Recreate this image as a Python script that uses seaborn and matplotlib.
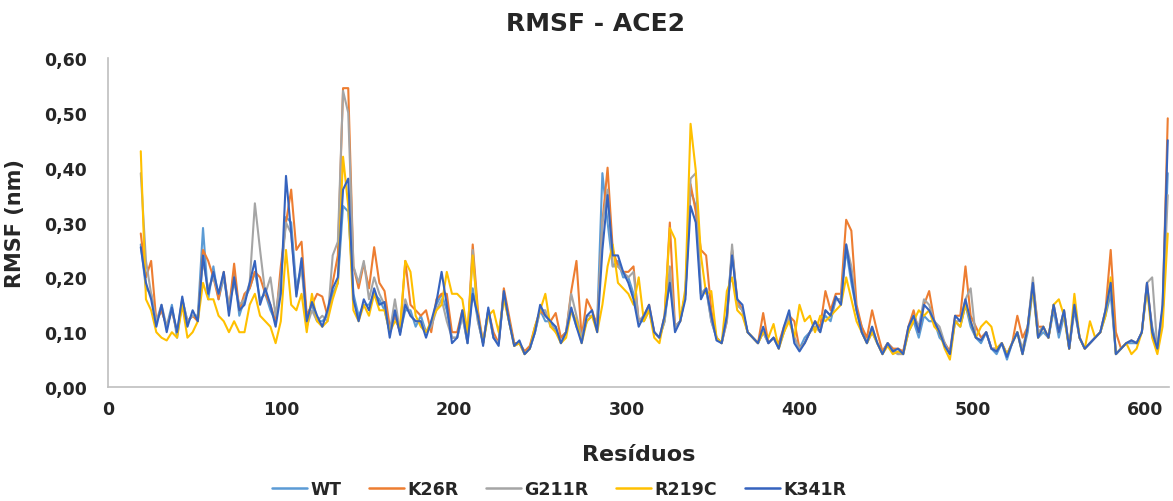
import numpy as np
import pandas as pd
import matplotlib
matplotlib.use("Agg")
import matplotlib.pyplot as plt
import seaborn as sns
from matplotlib.lines import Line2D
from matplotlib.ticker import FuncFormatter

# ---------------- data ----------------
residues = list(range(19, 614, 3))  # residue numbers (every 3rd residue)

variants = ["WT", "K26R", "G211R", "R219C", "K341R"]
colors = ["#5B9BD5", "#ED7D31", "#A5A5A5", "#FFC000", "#3563BE"]

wt = ([.26, .18, .17, .12, .14, .11, .15, .09, .16, .12, .13, .13, .29, .16, .22, .16, .20, .14, .21, .13, .16, .18, .21, .16, .17, .14, .12, .20]
      + [.31, .30, .18, .22, .13, .15, .12, .12, .13, .17, .19, .33, .32, .17, .13, .15, .15, .17, .16, .14, .10, .13, .10, .14, .14, .11, .13, .10, .11, .15, .17, .14, .09]
      + [.09, .13, .08, .18, .12, .08, .14, .09, .08, .17, .12, .08, .08, .065, .07, .10, .14, .12, .12, .10, .09, .10, .14, .11, .09, .12, .13, .12, .39, .30, .22, .23, .20]
      + [.20, .17, .12, .12, .14, .10, .09, .12, .20, .11, .12, .17, .36, .33, .17, .18, .12, .09, .08, .13, .25, .15, .14, .10, .09, .08, .10, .08, .09, .08, .10, .13, .09, .07]
      + [.09, .10, .11, .11, .13, .12, .16, .16, .25, .19, .14, .11, .08, .10, .08, .065, .08, .07, .06, .065, .10, .12, .09, .13, .12, .12, .09, .08, .06, .12, .11, .15, .11]
      + [.09, .08, .10, .07, .06, .08, .05, .08, .10, .06, .10, .18, .09, .10, .09, .14, .09, .13, .07, .14, .09, .07, .08, .09, .10, .13, .17, .06, .07, .08, .08, .08, .10, .18, .11, .07, .14, .39])

k26r = ([.28, .20, .23, .12, .14, .11, .14, .10, .15, .12, .13, .12, .25, .23, .20, .16, .21, .14, .225, .14, .17, .18, .21, .20, .17, .15, .12, .22]
        + [.30, .36, .25, .265, .13, .15, .17, .165, .13, .19, .24, .545, .545, .22, .18, .225, .18, .255, .19, .175, .11, .13, .10, .23, .15, .14, .13, .14, .10, .16, .17, .17, .10]
        + [.10, .14, .09, .26, .14, .08, .14, .10, .08, .18, .13, .08, .08, .065, .075, .11, .14, .13, .12, .135, .09, .10, .175, .23, .09, .16, .14, .11, .30, .40, .25, .22, .21]
        + [.21, .22, .12, .13, .15, .10, .09, .13, .30, .11, .12, .17, .37, .32, .25, .24, .14, .09, .08, .12, .25, .16, .14, .10, .09, .08, .135, .08, .09, .08, .11, .13, .12, .07]
        + [.08, .10, .12, .11, .175, .14, .17, .17, .305, .285, .15, .11, .09, .14, .10, .065, .08, .07, .07, .065, .11, .14, .10, .15, .175, .12, .10, .08, .065, .13, .13, .22, .13]
        + [.11, .09, .10, .07, .07, .08, .06, .08, .13, .09, .11, .19, .11, .11, .09, .15, .10, .14, .07, .15, .09, .07, .08, .09, .10, .14, .25, .10, .07, .08, .085, .08, .10, .19, .10, .07, .14, .49])

g211r = ([.39, .23, .17, .12, .15, .11, .14, .10, .16, .12, .13, .13, .23, .18, .20, .17, .20, .15, .19, .15, .16, .19, .335, .25, .17, .20, .13, .20]
         + [.30, .28, .17, .22, .11, .14, .12, .13, .12, .24, .265, .54, .50, .22, .19, .23, .16, .20, .17, .15, .10, .16, .10, .16, .13, .12, .12, .10, .11, .14, .16, .12, .09]
         + [.09, .13, .08, .25, .12, .08, .14, .09, .08, .17, .12, .075, .08, .06, .07, .10, .14, .14, .11, .11, .08, .10, .17, .13, .09, .13, .13, .11, .30, .36, .22, .22, .21]
         + [.20, .21, .12, .13, .14, .10, .09, .12, .22, .11, .12, .17, .38, .39, .17, .18, .12, .09, .08, .12, .26, .15, .14, .10, .09, .08, .10, .08, .09, .07, .10, .13, .09, .07]
         + [.08, .10, .11, .10, .14, .13, .16, .16, .26, .22, .14, .10, .08, .11, .08, .06, .08, .065, .06, .06, .10, .13, .11, .16, .15, .12, .11, .08, .06, .12, .12, .16, .18]
         + [.09, .085, .10, .07, .07, .08, .06, .08, .10, .07, .11, .20, .10, .11, .09, .15, .10, .14, .07, .15, .09, .07, .08, .09, .10, .14, .18, .06, .07, .08, .085, .08, .10, .19, .20, .07, .13, .35])

r219c = ([.43, .16, .14, .10, .09, .085, .10, .09, .15, .09, .10, .12, .19, .16, .16, .13, .12, .10, .12, .10, .10, .15, .17, .13, .12, .11, .08, .12]
         + [.25, .15, .14, .17, .10, .17, .12, .11, .12, .16, .19, .42, .33, .14, .12, .15, .13, .17, .14, .14, .10, .12, .11, .23, .21, .13, .11, .10, .12, .14, .15, .21, .17]
         + [.17, .16, .10, .24, .13, .08, .13, .14, .10, .16, .12, .075, .08, .06, .07, .11, .14, .17, .11, .10, .08, .09, .14, .12, .08, .12, .13, .10, .15, .22, .26, .19, .18]
         + [.17, .15, .20, .12, .14, .09, .08, .13, .29, .27, .12, .18, .48, .395, .24, .17, .175, .09, .08, .175, .20, .14, .13, .10, .09, .08, .10, .09, .115, .07, .10, .12, .09, .15]
         + [.12, .13, .10, .13, .12, .13, .14, .15, .20, .16, .12, .10, .08, .10, .08, .06, .075, .06, .065, .06, .10, .12, .14, .13, .14, .11, .10, .07, .05, .12, .11, .15, .12]
         + [.09, .11, .12, .11, .07, .08, .06, .08, .10, .06, .11, .18, .09, .11, .09, .15, .16, .13, .07, .17, .09, .07, .12, .09, .10, .13, .20, .06, .07, .08, .06, .07, .10, .18, .09, .06, .11, .28])

k341r = ([.255, .19, .16, .11, .15, .10, .145, .10, .165, .11, .14, .12, .24, .17, .21, .17, .21, .13, .20, .14, .15, .19, .23, .15, .18, .15, .11, .17]
         + [.385, .28, .165, .235, .12, .155, .13, .11, .14, .18, .20, .36, .38, .16, .12, .16, .14, .18, .15, .155, .09, .14, .095, .15, .13, .12, .12, .09, .12, .155, .21, .15, .08]
         + [.09, .14, .08, .17, .13, .075, .145, .09, .075, .175, .12, .075, .085, .06, .07, .10, .15, .13, .12, .11, .08, .10, .145, .11, .08, .13, .14, .10, .25, .35, .24, .24, .21]
         + [.19, .16, .11, .13, .15, .10, .09, .13, .19, .10, .12, .16, .33, .30, .16, .18, .13, .085, .08, .13, .24, .16, .15, .10, .09, .08, .11, .08, .09, .07, .11, .14, .08, .065]
         + [.08, .10, .12, .10, .14, .13, .165, .15, .26, .20, .14, .10, .08, .11, .08, .06, .08, .065, .07, .06, .11, .13, .10, .15, .14, .12, .10, .075, .06, .13, .12, .16, .12]
         + [.09, .085, .10, .07, .065, .08, .055, .08, .10, .06, .11, .19, .09, .11, .09, .15, .10, .14, .07, .15, .09, .07, .08, .09, .10, .14, .19, .06, .07, .08, .085, .08, .10, .19, .10, .07, .15, .45])

series = [wt, k26r, g211r, r219c, k341r]
for name, s in zip(variants, series):
    if len(s) != len(residues):
        raise ValueError(f"{name}: {len(s)} values vs {len(residues)} residues")

df = pd.concat([pd.DataFrame({"Residue": residues, "RMSF": s, "Variant": name})
                for name, s in zip(variants, series)], ignore_index=True)

# ---------------- plot ----------------
sns.set_style("white")
plt.rcParams["font.family"] = ["DejaVu Sans"]
plt.rcParams["font.weight"] = "bold"

fig = plt.figure(figsize=(11.73, 5.02), dpi=100)
ax = fig.add_axes([0.092, 0.227, 0.905, 0.6555])

palette = dict(zip(variants, colors))
sns.lineplot(data=df, x="Residue", y="RMSF", hue="Variant", hue_order=variants,
             palette=palette, linewidth=1.5, ax=ax, legend=False, sort=False)

ax.set_xlim(0, 614)
ax.set_ylim(0, 0.6)
ax.set_xticks(np.arange(0, 601, 100))
ax.set_yticks(np.arange(0, 0.61, 0.1))
ax.yaxis.set_major_formatter(FuncFormatter(lambda v, p: f"{v:.2f}".replace(".", ",")))
ax.tick_params(axis="both", length=0, labelsize=12.5)
ax.tick_params(axis="y", pad=15)
ax.tick_params(axis="x", pad=9)
for lab in ax.get_xticklabels() + ax.get_yticklabels():
    lab.set_fontweight("bold")

for side in ["top", "right"]:
    ax.spines[side].set_visible(False)
for side in ["left", "bottom"]:
    ax.spines[side].set_color("#BFBFBF")
    ax.spines[side].set_linewidth(1.2)
ax.grid(False)

ax.set_ylabel("RMSF (nm)", fontsize=15, fontweight="bold")
ax.yaxis.set_label_coords(-0.078, 0.5)
ax.set_xlabel("Resíduos", fontsize=16, fontweight="bold")
ax.xaxis.set_label_coords(0.5, -0.173)

fig.text(0.508, 0.953, "RMSF - ACE2", ha="center", va="center",
         fontsize=18, fontweight="bold")

handles = [Line2D([0], [0], color=c, lw=1.8) for c in colors]
fig.legend(handles, variants, loc="center", bbox_to_anchor=(0.4766, 0.024),
           ncol=5, frameon=False, handlelength=2.0, handletextpad=0.2,
           columnspacing=1.6, prop={"weight": "bold", "size": 12.5})

fig.savefig("out.png", dpi=100)
